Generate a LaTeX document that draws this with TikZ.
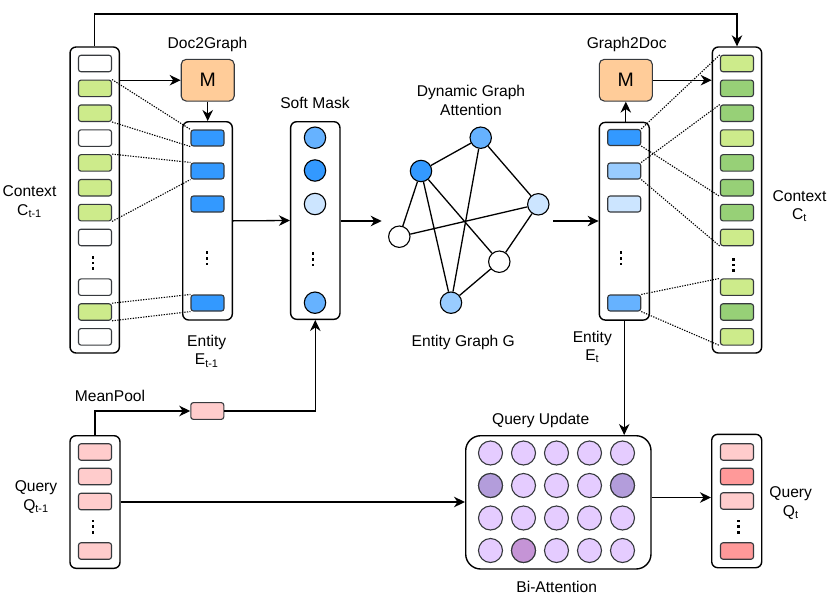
\documentclass[tikz,border=0pt]{standalone}
\usepackage{fontspec}
\setmainfont{Liberation Sans}
\usetikzlibrary{arrows.meta,calc}
\definecolor{stk}{HTML}{36393D}
\definecolor{bA}{HTML}{3399FF}
\definecolor{bB}{HTML}{66B2FF}
\definecolor{bC}{HTML}{99CCFF}
\definecolor{bD}{HTML}{CCE5FF}
\definecolor{lg}{HTML}{CDEB8B}
\definecolor{dg}{HTML}{97D077}
\definecolor{pk}{HTML}{FFCCCC}
\definecolor{pkd}{HTML}{FF9999}
\definecolor{org}{HTML}{FFCC99}
\definecolor{pl}{HTML}{E5CCFF}
\definecolor{pm}{HTML}{B39DDB}
\definecolor{pr}{HTML}{C594D6}
\tikzset{
  bigbox/.style={draw=black, line width=1.4pt, rounded corners=6pt, fill=white, inner sep=0pt},
  cell/.style={draw=stk, line width=1.1pt, rounded corners=2.5pt, minimum width=33pt, minimum height=16.5pt, inner sep=0pt},
  bcirc/.style={circle, draw=black, line width=1.1pt, minimum size=21.4pt, inner sep=0pt},
  pcirc/.style={circle, draw=stk, line width=1.1pt, minimum size=24pt, inner sep=0pt, fill=pl},
  mbox/.style={draw=stk, fill=org, line width=1.1pt, rounded corners=5pt, minimum width=53pt, minimum height=41.7pt, inner sep=0pt, font=\fontsize{19.5}{22}\selectfont},
  arr/.style={line width=1.3pt, -{Stealth[length=11pt,width=10.5pt,inset=3.5pt]}},
  conn/.style={line width=1.3pt},
  dotl/.style={line width=1.1pt, dash pattern=on 1.3pt off 1.3pt},
  gedge/.style={line width=1.3pt},
  lbl/.style={align=center, inner sep=0pt},
  vdts/.pic={\foreach \k in {-1,0,1} \fill (-1.2,{\k*5.6-1.3}) rectangle ++(2.4,2.6);}
}
\begin{document}
\begin{tikzpicture}[x=1pt,y=-1pt, font=\fontsize{15.6}{18.5}\selectfont]
\useasboundingbox (0,0) rectangle (830,603);

% ---------- boxes ----------
\node[bigbox, minimum width=49.3pt, minimum height=306pt] (ctxL) at (94.7,200) {};
\node[bigbox, minimum width=49.3pt, minimum height=306pt] (ctxR) at (737,200) {};
\node[bigbox, minimum width=49.6pt, minimum height=198.3pt] (eL) at (207.5,220.85) {};
\node[bigbox, minimum width=50pt, minimum height=197.7pt] (eR) at (624.3,221.2) {};
\node[bigbox, minimum width=49.3pt, minimum height=197.6pt] (sm) at (315.3,220.5) {};
\node[bigbox, minimum width=50pt, minimum height=132.6pt] (qL) at (95,502) {};
\node[bigbox, minimum width=50pt, minimum height=133.4pt] (qt) at (736.7,501) {};
\node[bigbox, rounded corners=15pt, minimum width=185.3pt, minimum height=133.3pt] (qu) at (558.35,502.35) {};

% ---------- context cells ----------
\foreach \i/\c in {1/white,2/lg,3/lg,4/white,5/lg,6/lg,7/lg,8/white,10/white,11/lg,12/white}
  \node[cell, fill=\c] (cL\i) at (95,{63.5+(\i-1)*24.85}) {};
\foreach \i/\c in {1/lg,2/dg,3/dg,4/lg,5/dg,6/dg,7/dg,8/lg,10/lg,11/dg,12/lg}
  \node[cell, fill=\c] (cR\i) at (737,{63.5+(\i-1)*24.85}) {};
\pic at (93,263) {vdts};
\pic at (733.3,265) {vdts};

% ---------- entity cells ----------
\foreach \i/\y/\c in {1/138/bA,2/171/bA,3/204/bA,4/303/bA}
  \node[cell, fill=\c, minimum height=16pt] (eL\i) at (207.5,\y) {};
\foreach \i/\y/\c in {1/137.5/bA,2/171/bC,3/204/bD,4/303/bB}
  \node[cell, fill=\c, minimum height=16pt] (eR\i) at (624.2,\y) {};
\pic at (206.7,258.3) {vdts};
\pic at (621,258.3) {vdts};

% ---------- soft mask ----------
\foreach \i/\y/\c in {1/137.7/bB,2/170.5/bA,3/204/bD,4/302.7/bB}
  \node[bcirc, fill=\c] (s\i) at (315,\y) {};
\pic at (313,259.3) {vdts};

% ---------- query cells ----------
\foreach \i/\y in {1/452,2/476.5,3/501.5,4/551}
  \node[cell, fill=pk, minimum height=16.5pt] (qL\i) at (95,\y) {};
\pic at (92.7,526.7) {vdts};
\foreach \i/\y/\c in {1/452/pk,2/476.5/pkd,3/501/pk,4/551/pkd}
  \node[cell, fill=\c, minimum height=16.5pt] (qt\i) at (737,\y) {};
\pic at (738.3,526.7) {vdts};

\node[cell, fill=pk, minimum height=16.7pt] (mp) at (207.3,411) {};

% ---------- M boxes ----------
\node[mbox] (mL) at (207.7,80.2) {M};
\node[mbox] (mR) at (625.8,80.2) {M};

% ---------- graph ----------
\node[bcirc, fill=bA] (gA) at (421,171) {};
\node[bcirc, fill=bB] (gB) at (480.7,137.7) {};
\node[bcirc, fill=bD] (gC) at (538.3,204.3) {};
\node[bcirc, fill=white] (gD) at (399.3,236.7) {};
\node[bcirc, fill=white] (gE) at (499.3,261.7) {};
\node[bcirc, fill=bC] (gF) at (451,302.7) {};
\draw[gedge] (gA)--(gB) (gA)--(gD) (gA)--(gF) (gA)--(gE) (gB)--(gC) (gB)--(gF) (gD)--(gC) (gC)--(gE) (gE)--(gF);

% ---------- query update circles ----------
\foreach \r/\y in {1/453,2/485.5,3/518,4/550.5}
  \foreach \k/\x in {1/490.5,2/523.5,3/556.5,4/589.5,5/622.5}
    \node[pcirc] (p\r\k) at (\x,\y) {};
\node[pcirc, fill=pm] at (p21) {};
\node[pcirc, fill=pm] at (p25) {};
\node[pcirc, fill=pr] at (p42) {};

% ---------- connectors ----------
\coordinate (ytop) at (0,14);
\draw[arr] (ctxL.north) -- (ctxL.north |- ytop) -| (ctxR.north);
\draw[arr] (ctxL.east |- mL.west) -- (mL.west);
\draw[arr] (mL.south) -- (mL.south |- eL.north);
\draw[arr] (eL.east) -- (sm.west);
\coordinate (gin) at (381.7,221);
\coordinate (gout) at (553.3,221);
\draw[arr] (sm.east |- gin) -- (gin);
\draw[arr] (gout) -- (gout -| eR.west);
\draw[arr] (mR.south |- eR.north) -- (mR.south);
\draw[arr] (mR.east) -- (mR.east -| ctxR.west);
\draw[arr] (qL.north) |- (mp.west);
\draw[arr] (mp.east) -| (sm.south);
\draw[arr] (eR.south -| eR2) -- (eR2 |- qu.north);
\draw[arr] (qL.east) -- (qL.east -| qu.west);
\coordinate (yq) at (0,497.5);
\draw[arr] (qu.east |- yq) -- (qt.west |- yq);

% ---------- dotted links ----------
\draw[dotl] (cL2.north east) -- (eL1.north west);
\draw[dotl] (cL3.south east) -- (eL1.south west);
\draw[dotl] (cL5.north east) -- (eL2.north west);
\draw[dotl] (cL7.south east) -- (eL2.south west);
\draw[dotl] (cL11.north east) -- (eL4.north west);
\draw[dotl] (cL11.south east) -- (eL4.south west);
\draw[dotl] (eR1.north east) -- (cR1.north west);
\draw[dotl] (eR1.south east) -- (cR6.south west);
\draw[dotl] (eR2.north east) -- (cR3.north west);
\draw[dotl] (eR2.south east) -- (cR8.south west);
\draw[dotl] (eR4.north east) -- (cR10.north west);
\draw[dotl] (eR4.south east) -- (cR12.south west);

% ---------- labels ----------
\node[lbl] (tD2G) at (207.5,44) {Doc2Graph};
\node[lbl] (tG2D) at (626.7,44.3) {Graph2Doc};
\node[lbl] (tSM) at (315,103.3) {Soft Mask};
\node[lbl] (tDGA) at (471,100.3) {Dynamic Graph\\Attention};
\node[lbl] (tEG) at (463.3,342.7) {Entity Graph G};
\node[lbl] (tCL) at (29.5,202) {Context\\C\textsubscript{t-1}};
\node[lbl] (tCR) at (799.5,206) {Context\\C\textsubscript{t}};
\node[lbl] (tEL) at (206.7,351) {Entity\\E\textsubscript{t-1}};
\node[lbl] (tER) at (592.3,347) {Entity\\E\textsubscript{t}};
\node[lbl] (tMP) at (110,396) {MeanPool};
\node[lbl] (tQL) at (36,497) {Query\\Q\textsubscript{t-1}};
\node[lbl] (tQU) at (540.7,420) {Query Update};
\node[lbl] (tBA) at (556.7,587.3) {Bi-Attention};
\node[lbl] (tQt) at (790.7,503) {Query\\Q\textsubscript{t}};
\end{tikzpicture}
\end{document}
